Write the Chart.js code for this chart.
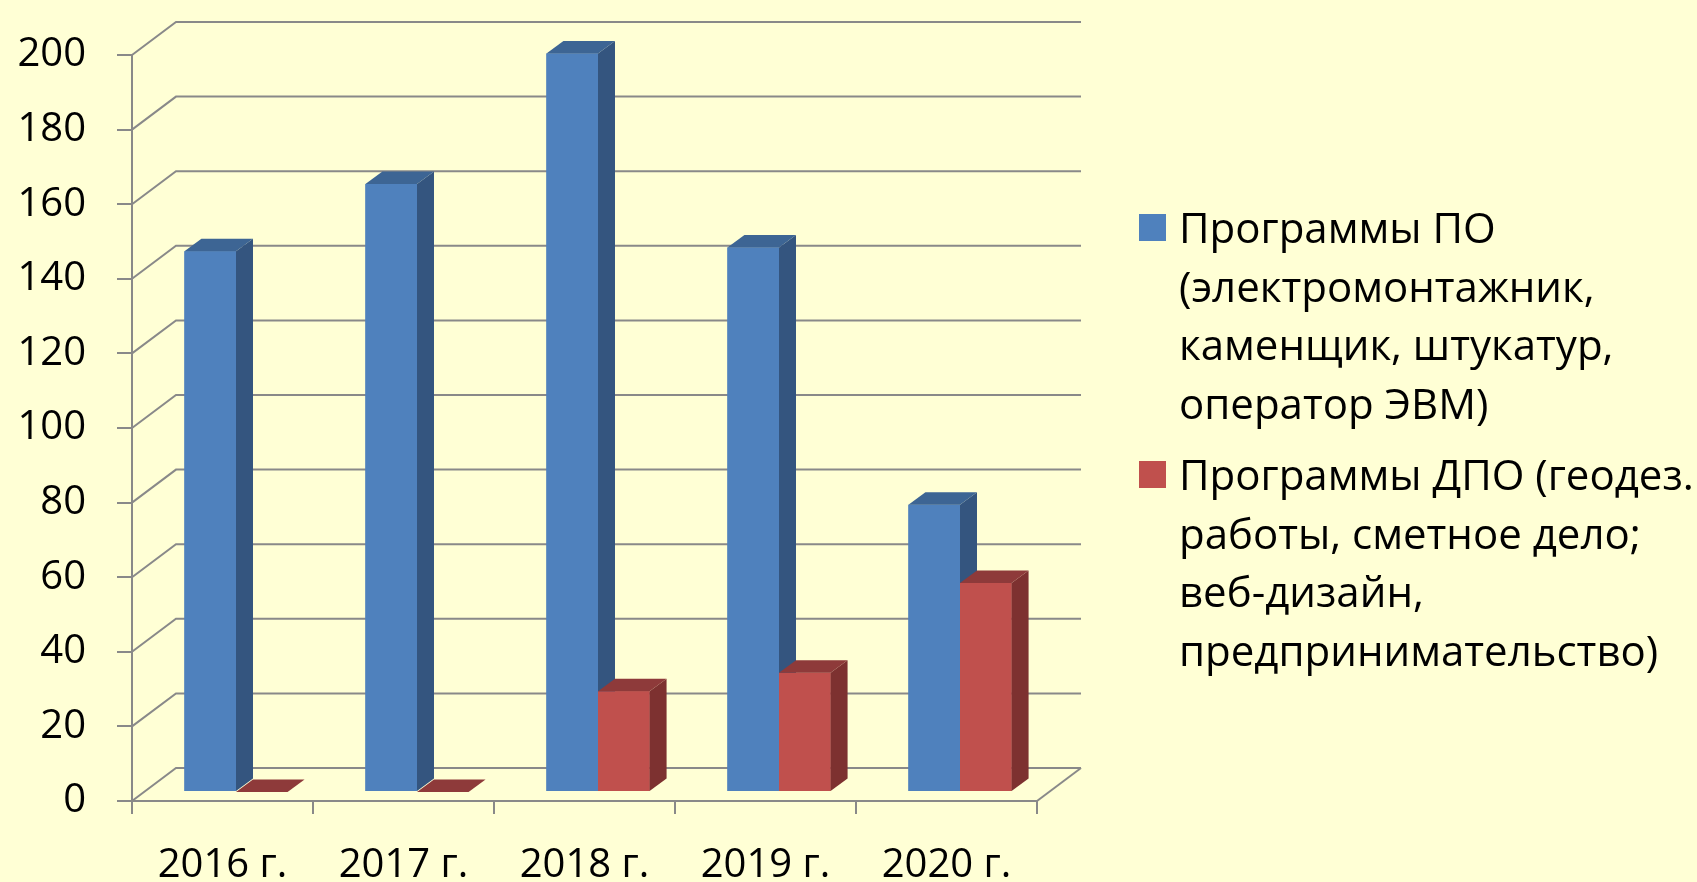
<!DOCTYPE html>
<html lang="ru">
<head>
<meta charset="utf-8">
<title>Программы ПО и ДПО</title>
<script src="https://cdn.jsdelivr.net/npm/chart.js"></script>
<style>
  html, body { margin: 0; padding: 0; background: #ffffd5; overflow: hidden; }
  #wrap { position: relative; width: 1697px; height: 882px; }
  #legend { position: absolute; left: 1139px; top: 198px; font: 42px 'Open Sans', sans-serif; line-height: 58.7px; color: #000; white-space: nowrap; }
  .item { display: flex; align-items: flex-start; }
  .item + .item { margin-top: 12px; }
  .swatch { width: 27px; height: 27px; margin-top: 16px; margin-right: 13px; flex: none; }
</style>
</head>
<body>
<div id="wrap">
  <canvas id="chart" width="1697" height="882"></canvas>
  <div id="legend"></div>
</div>
<script>
const categories = ['2016 г.', '2017 г.', '2018 г.', '2019 г.', '2020 г.'];
const poLabel = ['Программы ПО', '(электромонтажник,', 'каменщик, штукатур,', 'оператор ЭВМ)'];
const dpoLabel = ['Программы ДПО (геодез.', 'работы, сметное дело;', 'веб-дизайн,', 'предпринимательство)'];
const poValues = [145, 163, 198, 146, 77];
const dpoValues = [0, 0, 27, 32, 56];
const yMin = 0, yMax = 200, yStep = 20;

// colours: front, side, top
const blue = { front: '#4f81bd', side: '#34557f', top: '#3d6594' };
const red = { front: '#c0504d', side: '#7d3130', top: '#8e3a3a' };
const gridColor = '#898989';
const font = { family: "'Open Sans', sans-serif", size: 40 };

// pseudo 3d geometry
const WALL_DX = 44, WALL_DY = -33;
const SHIFT_X = 13.5, SHIFT_Y = -9;
const BAR_DX = 17, BAR_DY = -12.5;

function drawFaces(ctx, bar, c) {
  const p = bar.getProps(['x', 'y', 'base', 'width'], true);
  const x1 = p.x - p.width / 2, x2 = p.x + p.width / 2;
  const top = Math.min(p.y, p.base), bottom = Math.max(p.y, p.base);
  ctx.fillStyle = c.side;
  ctx.beginPath();
  ctx.moveTo(x2, bottom);
  ctx.lineTo(x2 + BAR_DX, bottom + BAR_DY);
  ctx.lineTo(x2 + BAR_DX, top + BAR_DY);
  ctx.lineTo(x2, top);
  ctx.closePath();
  ctx.fill();
  ctx.fillStyle = c.top;
  ctx.beginPath();
  ctx.moveTo(x1, top);
  ctx.lineTo(x1 + BAR_DX, top + BAR_DY);
  ctx.lineTo(x2 + BAR_DX, top + BAR_DY);
  ctx.lineTo(x2, top);
  ctx.closePath();
  ctx.fill();
}

const depth3d = {
  id: 'depth3d',
  beforeDatasetsDraw(chart) {
    const { ctx, chartArea: a, scales: { y } } = chart;
    ctx.save();
    ctx.strokeStyle = gridColor;
    ctx.lineWidth = 2;
    y.ticks.forEach(t => {
      const py = y.getPixelForValue(t.value);
      ctx.beginPath();
      ctx.moveTo(a.left, py);
      ctx.lineTo(a.left + WALL_DX, py + WALL_DY);
      ctx.lineTo(a.right + WALL_DX, py + WALL_DY);
      ctx.stroke();
    });
    ctx.beginPath();
    ctx.moveTo(a.right, a.bottom);
    ctx.lineTo(a.right + WALL_DX, a.bottom + WALL_DY);
    ctx.stroke();
    ctx.restore();
    ctx.save();
    ctx.translate(SHIFT_X, SHIFT_Y);
  },
  afterDatasetsDraw(chart) {
    const ctx = chart.ctx;
    // left to right inside each group, so the next bar covers the side of the previous one
    categories.forEach((_, i) => {
      chart.data.datasets.forEach((ds, d) => {
        const bar = chart.getDatasetMeta(d).data[i];
        bar.draw(ctx);
        drawFaces(ctx, bar, ds.faces);
      });
    });
    ctx.restore();
  }
};

const chart = new Chart(document.getElementById('chart'), {
  type: 'bar',
  data: {
    labels: categories,
    datasets: [
      { label: poLabel.join(' '), data: poValues, backgroundColor: blue.front, faces: blue,
        borderWidth: 0, categoryPercentage: 0.57, barPercentage: 1, clip: false },
      { label: dpoLabel.join(' '), data: dpoValues, backgroundColor: red.front, faces: red,
        borderWidth: 0, categoryPercentage: 0.57, barPercentage: 1, clip: false }
    ]
  },
  options: {
    responsive: false,
    animation: false,
    layout: { padding: { top: 48, right: 660, left: 0, bottom: 0 } },
    plugins: {
      legend: { display: false },
      tooltip: { enabled: false }
    },
    scales: {
      x: {
        grid: { offset: true, drawOnChartArea: false, tickLength: 13, color: gridColor, lineWidth: 2 },
        border: { display: true, color: gridColor, width: 2 },
        ticks: { color: '#000', font: font, padding: 28, maxRotation: 0 },
        afterFit(scale) { scale.height = 81; }
      },
      y: {
        min: yMin,
        max: yMax,
        grid: { drawOnChartArea: false, tickLength: 15, color: gridColor, lineWidth: 2 },
        border: { display: true, color: gridColor, width: 2 },
        ticks: { stepSize: yStep, color: '#000', font: font, padding: 31 },
        afterFit(scale) { scale.width = 132; }
      }
    }
  },
  plugins: [depth3d]
});

// legend as text next to the chart
const legend = document.getElementById('legend');
[[poLabel, blue.front], [dpoLabel, red.front]].forEach(([lines, color]) => {
  const item = document.createElement('div');
  item.className = 'item';
  const sw = document.createElement('span');
  sw.className = 'swatch';
  sw.style.background = color;
  const txt = document.createElement('div');
  lines.forEach(l => {
    const d = document.createElement('div');
    d.textContent = l;
    txt.appendChild(d);
  });
  item.appendChild(sw);
  item.appendChild(txt);
  legend.appendChild(item);
});
</script>
</body>
</html>
